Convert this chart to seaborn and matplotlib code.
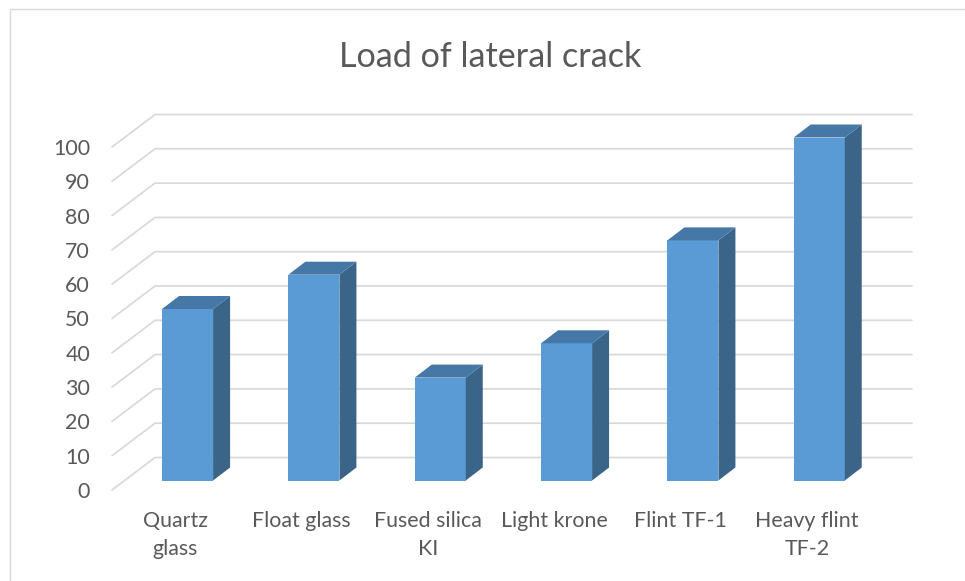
import matplotlib
matplotlib.use("Agg")
import matplotlib.pyplot as plt
import pandas as pd
import seaborn as sns
from matplotlib.patches import Polygon, Rectangle

categories = ["Quartz\nglass", "Float glass", "Fused silica\nKI", "Light krone", "Flint TF-1", "Heavy flint\nTF-2"]
values = [50, 60, 30, 40, 70, 100]
y_ticks = list(range(0, 101, 10))
title = "Load of lateral crack"

W, H = 965, 581
DPI = 100
FRONT, SIDE, TOP = "#5B9BD5", "#3A6589", "#4578A6"
TEXT, GRID = "#595959", "#D9D9D9"

sns.set_theme(style="white")
plt.rcParams["font.family"] = ["Lato", "DejaVu Sans"]

fig = plt.figure(figsize=(W / DPI, H / DPI), dpi=DPI, facecolor="white")

# chart frame: only top and left edges fall inside the picture
fig.add_artist(Rectangle((9.5 / W, -0.1), 1.2, 1.1 - 9.5 / H, transform=fig.transFigure,
                         fc="none", ec=GRID, lw=1.0))

# front plane of the 3D box, in pixels
LEFT, RIGHT, TOP_Y, BOTTOM_Y = 112.0, 870.0, 147.0, 490.0
ax = fig.add_axes([LEFT / W, 1 - BOTTOM_Y / H, (RIGHT - LEFT) / W, (BOTTOM_Y - TOP_Y) / H])

df = pd.DataFrame({"category": categories, "value": values})
sns.barplot(data=df, x="category", y="value", color=FRONT, saturation=1, width=0.404,
            ax=ax, zorder=3, linewidth=0, edgecolor="none")

ax.set_xlim(-0.5, 5.5)
ax.set_ylim(0, 100)
px_x = (RIGHT - LEFT) / 6
px_y = (BOTTOM_Y - TOP_Y) / 100

# wall gridlines: diagonal along the side wall, then along the back wall
wall_dx, wall_dy, wall_end = 43 / px_x, 32.5 / px_y, 42 / px_x
for v in y_ticks:
    ax.plot([-0.5, -0.5 + wall_dx, 5.5 + wall_end], [v, v + wall_dy, v + wall_dy],
            color=GRID, lw=1.25, clip_on=False, zorder=1, solid_joinstyle="miter")

# bars: shifted into the box, with a side and a top face
shift_x, shift_y = 12.4 / px_x, 9.5 / px_y
depth_x, depth_y = 17 / px_x, 13 / px_y
for bar in ax.patches:
    bar.set_x(bar.get_x() + shift_x)
    bar.set_y(shift_y)
    bar.set_clip_on(False)
    x0, x1 = bar.get_x(), bar.get_x() + bar.get_width()
    y0, y1 = bar.get_y(), bar.get_y() + bar.get_height()
    ax.add_patch(Polygon([(x1, y0), (x1 + depth_x, y0 + depth_y), (x1 + depth_x, y1 + depth_y), (x1, y1)],
                         closed=True, fc=SIDE, ec="none", clip_on=False, zorder=3))
    ax.add_patch(Polygon([(x0, y1), (x1, y1), (x1 + depth_x, y1 + depth_y), (x0 + depth_x, y1 + depth_y)],
                         closed=True, fc=TOP, ec="none", clip_on=False, zorder=3))

ax.set_yticks(y_ticks)
ax.set_xlabel("")
ax.set_ylabel("")
sns.despine(ax=ax, left=True, bottom=True)
ax.tick_params(axis="y", length=0, pad=22 * 72 / DPI, labelsize=15.4, labelcolor=TEXT)
ax.tick_params(axis="x", length=0, pad=21 * 72 / DPI, labelsize=15.4, labelcolor=TEXT)
for t in ax.get_xticklabels():
    t.set_linespacing(1.5)
ax.patch.set_alpha(0)

fig.text(490 / W, 1 - 57 / H, title, ha="center", va="center", fontsize=24.6, color=TEXT)

fig.savefig("out.png", dpi=DPI, facecolor="white")
